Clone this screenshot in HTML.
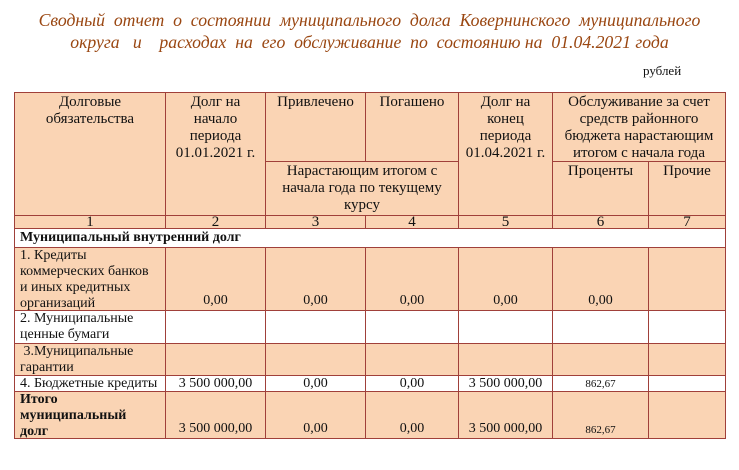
<!DOCTYPE html>
<html><head><meta charset="utf-8"><style>
body{margin:0;width:739px;height:470px;background:#fff;position:relative;overflow:hidden;font-family:"Liberation Serif",serif;font-size:14px;color:#111}
.t{position:absolute;left:0;width:739px;text-align:center;font-style:italic;color:#9a4712;font-size:17.7px;white-space:pre}
.c{position:absolute;box-sizing:border-box;border:1px solid #a0403a;background:#fad4b4;line-height:16px;text-align:center;overflow:hidden;white-space:nowrap}
.h{font-size:15px;line-height:17px}
.w{background:#fff}
.l{text-align:left;padding-left:5px}
.b{font-weight:bold}
.bt{display:flex;align-items:flex-end;justify-content:center;padding-bottom:1px}
</style></head><body>
<div class="t" style="top:10px">Сводный  отчет  о  состоянии  муниципального  долга  Ковернинского  муниципального</div>
<div class="t" style="top:32px">округа   и    расходах  на  его  обслуживание  по  состоянию на  01.04.2021 года</div>
<div style="position:absolute;left:643px;top:63px;font-size:13px">рублей</div>

<div class="c h" style="left:14px;top:92px;width:152px;height:124px;padding-top:1px">Долговые<br>обязательства</div>
<div class="c h" style="left:165px;top:92px;width:101px;height:124px;padding-top:1px">Долг на<br>начало<br>периода<br>01.01.2021 г.</div>
<div class="c h" style="left:265px;top:92px;width:101px;height:70px;padding-top:1px">Привлечено</div>
<div class="c h" style="left:365px;top:92px;width:94px;height:70px;padding-top:1px">Погашено</div>
<div class="c h" style="left:265px;top:161px;width:194px;height:55px;padding-top:1px">Нарастающим итогом с<br>начала года по текущему<br>курсу</div>
<div class="c h" style="left:458px;top:92px;width:95px;height:124px;padding-top:1px">Долг на<br>конец<br>периода<br>01.04.2021 г.</div>
<div class="c h" style="left:552px;top:92px;width:174px;height:70px;padding-top:1px">Обслуживание за счет<br>средств районного<br>бюджета нарастающим<br>итогом с начала года</div>
<div class="c h" style="left:552px;top:161px;width:97px;height:55px;padding-top:1px">Проценты</div>
<div class="c h" style="left:648px;top:161px;width:78px;height:55px;padding-top:1px">Прочие</div>

<div class="c h" style="left:14px;top:215px;width:152px;height:14px;line-height:13px">1</div>
<div class="c h" style="left:165px;top:215px;width:101px;height:14px;line-height:13px">2</div>
<div class="c h" style="left:265px;top:215px;width:101px;height:14px;line-height:13px">3</div>
<div class="c h" style="left:365px;top:215px;width:94px;height:14px;line-height:13px">4</div>
<div class="c h" style="left:458px;top:215px;width:95px;height:14px;line-height:13px">5</div>
<div class="c h" style="left:552px;top:215px;width:97px;height:14px;line-height:13px">6</div>
<div class="c h" style="left:648px;top:215px;width:78px;height:14px;line-height:13px">7</div>

<div class="c w l b" style="left:14px;top:228px;width:712px;height:20px;line-height:18px">Муниципальный внутренний долг</div>

<div class="c l" style="left:14px;top:247px;width:152px;height:64px">1. Кредиты<br>коммерческих банков<br>и иных кредитных<br>организаций</div>
<div class="c bt" style="left:165px;top:247px;width:101px;height:64px">0,00</div>
<div class="c bt" style="left:265px;top:247px;width:101px;height:64px">0,00</div>
<div class="c bt" style="left:365px;top:247px;width:94px;height:64px">0,00</div>
<div class="c bt" style="left:458px;top:247px;width:95px;height:64px">0,00</div>
<div class="c bt" style="left:552px;top:247px;width:97px;height:64px">0,00</div>
<div class="c" style="left:648px;top:247px;width:78px;height:64px"></div>

<div class="c w l" style="left:14px;top:310px;width:152px;height:34px">2. Муниципальные<br>ценные бумаги</div>
<div class="c w" style="left:165px;top:310px;width:101px;height:34px"></div>
<div class="c w" style="left:265px;top:310px;width:101px;height:34px"></div>
<div class="c w" style="left:365px;top:310px;width:94px;height:34px"></div>
<div class="c w" style="left:458px;top:310px;width:95px;height:34px"></div>
<div class="c w" style="left:552px;top:310px;width:97px;height:34px"></div>
<div class="c w" style="left:648px;top:310px;width:78px;height:34px"></div>

<div class="c l" style="left:14px;top:343px;width:152px;height:33px">&nbsp;3.Муниципальные<br>гарантии</div>
<div class="c" style="left:165px;top:343px;width:101px;height:33px"></div>
<div class="c" style="left:265px;top:343px;width:101px;height:33px"></div>
<div class="c" style="left:365px;top:343px;width:94px;height:33px"></div>
<div class="c" style="left:458px;top:343px;width:95px;height:33px"></div>
<div class="c" style="left:552px;top:343px;width:97px;height:33px"></div>
<div class="c" style="left:648px;top:343px;width:78px;height:33px"></div>

<div class="c w l" style="left:14px;top:375px;width:152px;height:17px;line-height:15px">4. Бюджетные кредиты</div>
<div class="c w" style="left:165px;top:375px;width:101px;height:17px;line-height:15px">3 500 000,00</div>
<div class="c w" style="left:265px;top:375px;width:101px;height:17px;line-height:15px">0,00</div>
<div class="c w" style="left:365px;top:375px;width:94px;height:17px;line-height:15px">0,00</div>
<div class="c w" style="left:458px;top:375px;width:95px;height:17px;line-height:15px">3 500 000,00</div>
<div class="c w" style="left:552px;top:375px;width:97px;height:17px;line-height:17px;font-size:11px">862,67</div>
<div class="c w" style="left:648px;top:375px;width:78px;height:17px"></div>

<div class="c l b" style="left:14px;top:391px;width:152px;height:48px">Итого<br>муниципальный<br>долг</div>
<div class="c bt" style="left:165px;top:391px;width:101px;height:48px">3 500 000,00</div>
<div class="c bt" style="left:265px;top:391px;width:101px;height:48px">0,00</div>
<div class="c bt" style="left:365px;top:391px;width:94px;height:48px">0,00</div>
<div class="c bt" style="left:458px;top:391px;width:95px;height:48px">3 500 000,00</div>
<div class="c bt" style="left:552px;top:391px;width:97px;height:48px;font-size:11px;padding-bottom:0">862,67</div>
<div class="c" style="left:648px;top:391px;width:78px;height:48px"></div>
</body></html>
